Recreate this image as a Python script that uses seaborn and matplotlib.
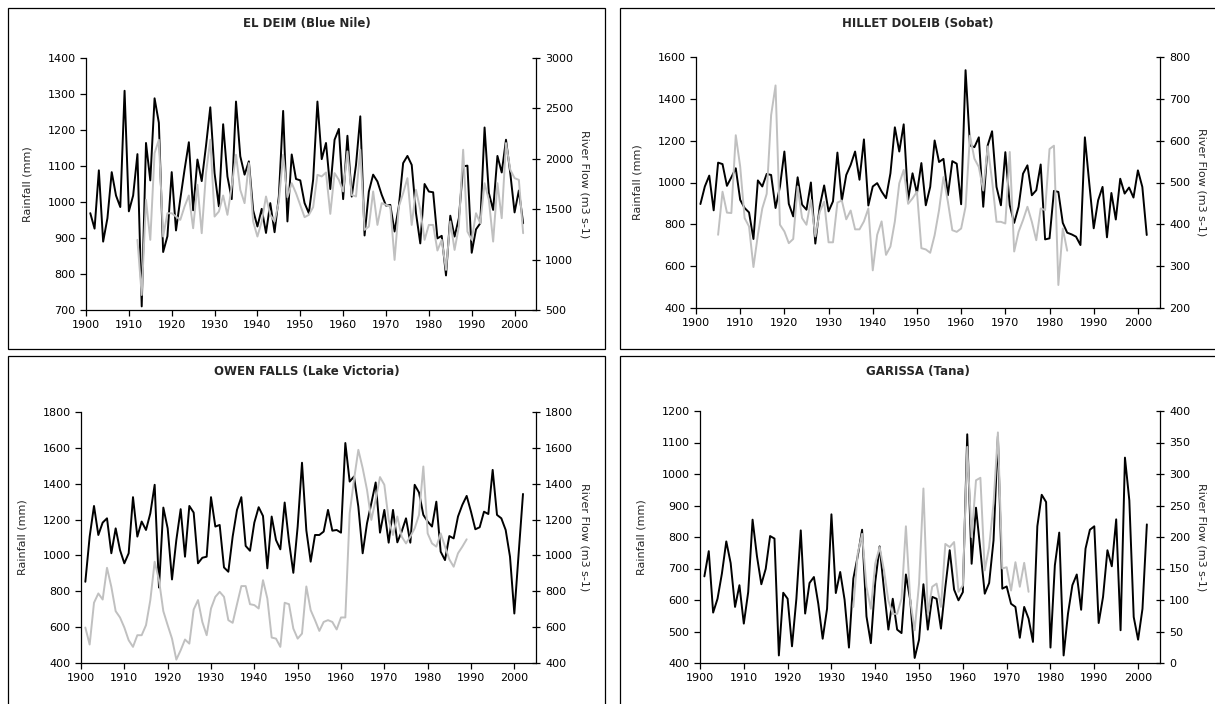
import numpy as np
import pandas as pd
import matplotlib.pyplot as plt
import seaborn as sns
from matplotlib.patches import Rectangle

sns.set_style("white")
plt.rcParams['font.family'] = ['DejaVu Sans']

# rainfall (mm, black) and river flow (m3 s-1, grey), one value per year

# EL DEIM (Blue Nile): rain 1901-2002, flow 1912-2002
deim_rain = [969, 926, 1088, 890, 955, 1083, 1018, 986, 1309, 974,
             1018, 1133, 710, 1164, 1060, 1288, 1220, 861, 905, 1083,
             921, 1008, 1090, 1166, 977, 1118, 1058, 1156, 1263, 1080,
             988, 1216, 1071, 1008, 1279, 1127, 1076, 1113, 977, 932,
             981, 914, 997, 916, 1016, 1253, 946, 1132, 1064, 1060,
             997, 969, 1062, 1279, 1119, 1164, 1036, 1173, 1203, 1008,
             1184, 1015, 1103, 1238, 907, 1029, 1076, 1057, 1020, 990,
             992, 918, 989, 1108, 1128, 1103, 969, 885, 1050, 1029,
             1027, 899, 906, 796, 962, 904, 955, 1099, 1101, 859,
             924, 941, 1207, 1025, 978, 1128, 1082, 1173, 1080, 971,
             1032, 941]
deim_flow = [1196, 649, 1593, 1196, 2056, 2189, 1229, 1460, 1460, 1427,
             1394, 1527, 1636, 1311, 1742, 1262, 1858, 2189, 1427, 1477,
             1636, 1444, 1725, 2040, 1692, 1560, 1957, 1378, 1229, 1378,
             1626, 1444, 1378, 1576, 2040, 1619, 1758, 1659, 1540,
             1421, 1444, 1520, 1841, 1825, 1864, 1454, 1858, 1791, 1676,
             2073, 1642, 1626, 2090, 1295, 1328, 1676, 1344, 1560, 1543,
             1527, 997, 1527, 1659, 1808, 1344, 1692, 1494, 1196, 1344,
             1344, 1090, 1196, 898, 1378, 1096, 1328, 2090, 1278, 1196,
             1460, 1361, 1758, 1593, 1179, 1758, 1411, 2156, 1891, 1808,
             1791, 1262]

# HILLET DOLEIB (Sobat): rain 1901-2002, flow 1905-1984
hillet_rain = [897, 981, 1033, 867, 1095, 1088, 984, 1025, 1068, 917,
               878, 857, 730, 1010, 981, 1041, 1036, 878, 981, 1148,
               898, 838, 1025, 894, 870, 1000, 708, 886, 986, 862,
               910, 1143, 913, 1036, 1084, 1148, 1013, 1206, 890, 981,
               997, 957, 925, 1044, 1264, 1148, 1278, 917, 1044, 949,
               1093, 891, 979, 1201, 1098, 1113, 939, 1102, 1090, 896,
               1537, 1177, 1169, 1216, 884, 1177, 1245, 979, 891, 1145,
               891, 807, 884, 1042, 1082, 939, 963, 1086, 728, 733,
               960, 955, 807, 760, 752, 741, 701, 1216, 995, 781,
               915, 979, 738, 950, 823, 1018, 947, 976, 928, 1058,
               979, 749]
hillet_flow = [375, 478, 428, 427, 613, 538, 415, 395, 298, 375,
               438, 473, 661, 732, 399, 383, 355, 365, 490, 415,
               399, 458, 371, 430, 454, 357, 357, 452, 457, 412,
               433, 388, 388, 407, 438, 290, 375, 407, 327, 347,
               407, 498, 530, 449, 462, 478, 343, 340, 332, 374,
               434, 513, 454, 386, 382, 390, 442, 612, 557, 537,
               481, 586, 505, 406, 406, 402, 573, 335, 382, 410,
               442, 406, 362, 438, 434, 580, 588, 255, 390, 337]

# OWEN FALLS (Lake Victoria): rain 1901-2002, flow 1901-1989
owen_rain = [853, 1105, 1276, 1114, 1183, 1207, 1012, 1151, 1030, 956,
             1012, 1325, 1105, 1189, 1142, 1235, 1394, 821, 1267, 1151,
             866, 1086, 1258, 993, 1276, 1239, 956, 987, 993, 1325,
             1161, 1170, 933, 909, 1105, 1254, 1325, 1053, 1026, 1183,
             1269, 1220, 928, 1217, 1086, 1034, 1295, 1077, 903, 1161,
             1517, 1140, 965, 1114, 1114, 1133, 1254, 1138, 1142, 1127,
             1627, 1412, 1440, 1272, 1012, 1179, 1291, 1407, 1127, 1254,
             1071, 1254, 1073, 1133, 1207, 1071, 1394, 1351, 1226, 1189,
             1161, 1300, 1021, 974, 1108, 1095, 1217, 1282, 1332, 1244,
             1146, 1157, 1244, 1231, 1477, 1226, 1207, 1142, 993, 676,
             1012, 1343]
owen_flow = [598, 503, 736, 788, 754, 931, 825, 689, 654, 598,
             527, 490, 555, 555, 611, 751, 965, 862, 689, 611,
             536, 419, 471, 531, 508, 698, 751, 629, 555, 704,
             769, 797, 769, 639, 624, 728, 829, 829, 728, 723,
             704, 862, 760, 542, 536, 490, 736, 728, 592, 536,
             564, 827, 695, 639, 579, 629, 639, 629, 587, 654,
             654, 1235, 1422, 1589, 1487, 1366, 1198, 1310, 1437, 1394,
             1198, 1114, 1217, 1105, 1067, 1105, 1151, 1226, 1496, 1123,
             1067, 1049, 1123, 1049, 978, 937, 1012, 1049, 1090]

# GARISSA (Tana): rain 1901-2002, flow 1935-1975
garissa_rain = [675, 755, 560, 604, 684, 786, 717, 578, 647, 525,
                625, 855, 739, 650, 699, 803, 795, 424, 623, 604,
                453, 604, 821, 557, 654, 673, 588, 477, 572, 872,
                622, 689, 601, 449, 668, 739, 823, 548, 463, 657,
                770, 633, 506, 604, 506, 495, 681, 599, 416, 474,
                650, 506, 610, 604, 509, 641, 758, 633, 599, 625,
                1126, 715, 893, 758, 620, 654, 789, 1120, 636, 643,
                588, 578, 480, 578, 541, 467, 834, 934, 911, 449,
                710, 814, 424, 557, 647, 681, 569, 763, 823, 834,
                527, 610, 758, 707, 856, 504, 1052, 916, 546, 474,
                572, 840]
garissa_flow = [89, 174, 205, 121, 86, 158, 184, 147, 99, 78,
                78, 102, 217, 99, 52, 126, 277, 78, 121, 126,
                89, 189, 184, 192, 113, 123, 343, 200, 290, 294,
                147, 184, 253, 366, 150, 152, 115, 160, 121, 159,
                113]

panels = [
    dict(title="EL DEIM (Blue Nile)", rain=deim_rain, rain0=1901,
         flow=deim_flow, flow0=1912, rlim=(700, 1400, 100), flim=(500, 3000, 500),
         ax=[86, 58, 536, 310], box=[8, 8, 605, 349]),
    dict(title="HILLET DOLEIB (Sobat)", rain=hillet_rain, rain0=1901,
         flow=hillet_flow, flow0=1905, rlim=(400, 1600, 200), flim=(200, 800, 100),
         ax=[696, 57, 1160, 308], box=[620, 8, 1216, 349]),
    dict(title="OWEN FALLS (Lake Victoria)", rain=owen_rain, rain0=1901,
         flow=owen_flow, flow0=1901, rlim=(400, 1800, 200), flim=(400, 1800, 200),
         ax=[81, 412, 536, 663], box=[8, 356, 605, 706]),
    dict(title="GARISSA (Tana)", rain=garissa_rain, rain0=1901,
         flow=garissa_flow, flow0=1935, rlim=(400, 1200, 100), flim=(0, 400, 50),
         ax=[700, 411, 1160, 663], box=[620, 356, 1216, 706]),
]

W, H = 1215, 704
fig = plt.figure(figsize=(W / 100, H / 100), dpi=100)

for p in panels:
    x0, y0, x1, y1 = p['box']
    fig.patches.append(Rectangle((x0 / W, 1 - y1 / H), (x1 - x0) / W, (y1 - y0) / H,
                                 transform=fig.transFigure, fill=False,
                                 edgecolor='black', linewidth=0.9))
    fig.text((x0 + x1) / 2 / W, 1 - (y0 + 16) / H, p['title'], ha='center',
             va='center', fontsize=8.5, fontweight='bold')

    l, t, r, b = p['ax']
    ax = fig.add_axes([l / W, 1 - b / H, (r - l) / W, (b - t) / H])
    rain = pd.DataFrame({'year': np.arange(p['rain0'], p['rain0'] + len(p['rain'])),
                         'value': p['rain']})
    flow = pd.DataFrame({'year': np.arange(p['flow0'], p['flow0'] + len(p['flow'])),
                         'value': p['flow']})
    sns.lineplot(data=rain, x='year', y='value', ax=ax, color='black', linewidth=1.4)
    ax2 = ax.twinx()
    sns.lineplot(data=flow, x='year', y='value', ax=ax2, color='#c0c0c0', linewidth=1.4)

    ax.set_xlim(1900, 2005)
    ax.set_xticks(range(1900, 2001, 10))
    lo, hi, st = p['rlim']
    ax.set_ylim(lo, hi)
    ax.set_yticks(range(lo, hi + 1, st))
    lo, hi, st = p['flim']
    ax2.set_ylim(lo, hi)
    ax2.set_yticks(range(lo, hi + 1, st))

    ax.set_xlabel('')
    ax.set_ylabel('Rainfall (mm)', fontsize=8, labelpad=11)
    ax2.set_ylabel('River Flow (m3 s-1)', fontsize=8, rotation=270, labelpad=12)

    for a in (ax, ax2):
        for s in a.spines.values():
            s.set_color('black')
            s.set_linewidth(0.9)
        a.spines['top'].set_visible(False)
    ax2.spines['left'].set_visible(False)
    ax2.spines['bottom'].set_visible(False)
    ax.spines['right'].set_visible(False)

    ax.tick_params(axis='both', direction='out', length=4, width=0.9,
                   labelsize=8, colors='black', left=True, bottom=True)
    ax2.tick_params(axis='y', direction='inout', length=6, width=0.9,
                    labelsize=8, colors='black', right=True)

fig.savefig('out.png', dpi=100)
